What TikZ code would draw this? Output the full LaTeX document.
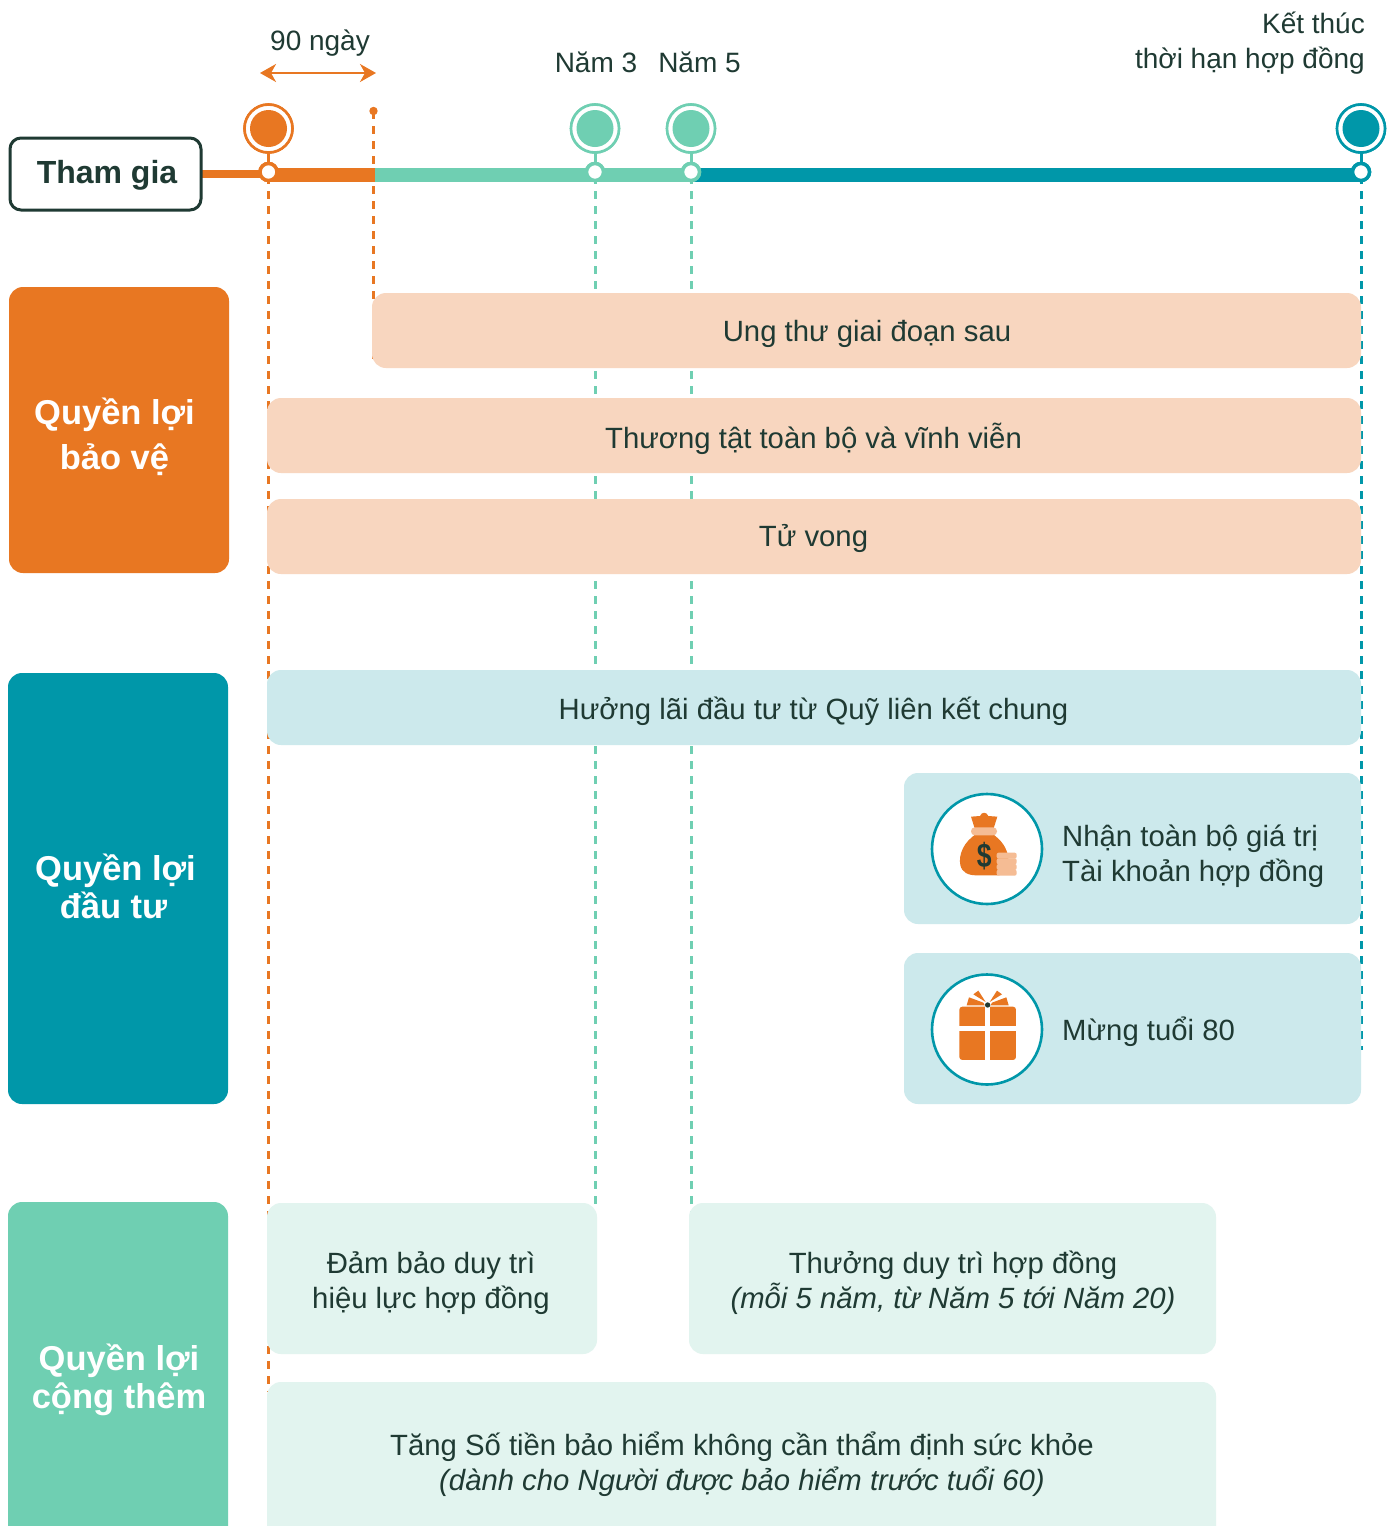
\documentclass[tikz,border=0pt]{standalone}
\usepackage{fontspec}
\setmainfont{Liberation Sans}
\usetikzlibrary{arrows.meta}
\definecolor{ink}{HTML}{1F3A33}
\definecolor{orangeC}{HTML}{E87722}
\definecolor{tealC}{HTML}{0097A9}
\definecolor{greenC}{HTML}{6FCFB2}
\definecolor{peachC}{HTML}{F8D6BF}
\definecolor{paleteal}{HTML}{CCE9EC}
\definecolor{palegreen}{HTML}{E2F4EF}
\definecolor{lightorange}{HTML}{F5BC94}
\tikzset{
  panel/.style={inner sep=0pt,outer sep=0pt,rounded corners=14pt},
  body/.style={text=ink,align=center,inner sep=0pt,font=\fontsize{29.3}{35}\selectfont},
  toplabel/.style={text=ink,inner sep=0pt,font=\fontsize{28}{35}\selectfont},
  head/.style={text=white,align=center,inner sep=0pt,font=\fontsize{34.5}{38}\selectfont\bfseries},
  ringn/.style={circle,draw=#1,line width=2.6pt,fill=white,minimum size=48pt,inner sep=0pt,outer sep=0pt},
  dotn/.style={circle,fill=#1,minimum size=37pt,inner sep=0pt,outer sep=0pt},
  tick/.style={circle,draw=#1,line width=3.5pt,fill=white,minimum size=17pt,inner sep=0pt,outer sep=0pt},
  stem/.style={draw=#1,line width=3pt},
  guide/.style={draw=#1,line width=3pt,dash pattern=on 8pt off 7pt},
  bar/.style={draw=#1,line width=13.5pt},
  iconring/.style={circle,draw=tealC,line width=2.6pt,fill=white,minimum size=110pt,inner sep=0pt,outer sep=0pt},
}
\newcommand{\panelbox}[6]{\node[panel,fill=#6,minimum width={(#4-#2)*1pt},minimum height={(#5-#3)*1pt}] (#1) at ({(#2+#4)/2},{(#3+#5)/2}) {};}
\begin{document}
\begin{tikzpicture}[x=1pt,y=-1pt]
\clip (0,0) rectangle (1391,1526);
\fill[white] (0,0) rectangle (1391,1526);

% anchors on the time line
\coordinate (t0) at (202,174);
\coordinate (t1) at (268,174);
\coordinate (b1) at (268,175);
\coordinate (b2) at (375,175);
\coordinate (b4) at (691,175);
\coordinate (b5) at (1361,175);
\coordinate (g1s) at (268,176);
\coordinate (g2s) at (373.5,111);
\coordinate (g2e) at (373.5,360);
\coordinate (g3s) at (595.5,176);
\coordinate (g3e) at (595.5,1208);
\coordinate (g4s) at (691,176);
\coordinate (g4e) at (691,1215);
\coordinate (g5s) at (1361.5,176);
\coordinate (g5e) at (1361.5,1050);
\coordinate (g1e) at (268,1392);
\coordinate (al) at (260,73);
\coordinate (ar) at (376,73);

% guides
\draw[guide=orangeC] (g1s) -- (g1e);
\draw[guide=orangeC] (g2s) -- (g2e);
\draw[guide=greenC] (g3s) -- (g3e);
\draw[guide=greenC] (g4s) -- (g4e);
\draw[guide=tealC] (g5s) -- (g5e);

% bars
\draw[draw=orangeC,line width=8pt] (t0) -- (t1);
\draw[bar=orangeC] (b1) -- (b2);
\draw[bar=greenC] (b2) -- (b4);
\draw[bar=tealC] (b4) -- (b5);
\fill[orangeC] (g2s) circle (4.2);

% left headers
\panelbox{hA}{9}{287}{229}{573}{orangeC}
\panelbox{hB}{8}{673}{228}{1104}{tealC}
\panelbox{hC}{8}{1202}{228}{1545}{greenC}
\node[head,font=\fontsize{34.5}{45}\selectfont\bfseries] (tA) at (114.5,437) {Quyền lợi\\bảo vệ};
\node[head] (tB) at (115.5,886) {Quyền lợi\\đầu tư\hspace*{4pt}};
\node[head] (tC) at (119,1380) {Quyền lợi\\cộng thêm};

% panels
\panelbox{p1}{372}{293}{1361}{368}{peachC}
\panelbox{p2}{267}{398}{1361}{473}{peachC}
\panelbox{p3}{267}{499}{1361}{574}{peachC}
\panelbox{p4}{267}{670}{1361}{745}{paleteal}
\panelbox{p5}{904}{773}{1361}{924}{paleteal}
\panelbox{p6}{904}{953}{1361}{1104}{paleteal}
\panelbox{p7}{267}{1203}{597}{1354}{palegreen}
\panelbox{p8}{689}{1203}{1216}{1354}{palegreen}
\panelbox{p9}{267}{1382}{1216}{1545}{palegreen}

\node[body] (l1) at (867,334) {Ung thư giai đoạn sau};
\node[body] (l2) at (813.5,439) {Thương tật toàn bộ và vĩnh viễn};
\node[body] (l3) at (813.5,538) {Tử vong};
\node[body] (l4) at (813.5,711) {Hưởng lãi đầu tư từ Quỹ liên kết chung};
\node[body,align=left,anchor=west] (l5) at (1062,856) {Nhận toàn bộ giá trị\\Tài khoản hợp đồng};
\node[body,anchor=west] (l6) at (1062,1032) {Mừng tuổi 80};
\node[body] (l7) at (431,1283) {Đảm bảo duy trì\\hiệu lực hợp đồng};
\node[body] (l8) at (953,1283) {Thưởng duy trì hợp đồng\\\textit{(mỗi 5 năm, từ Năm 5 tới Năm 20)}};
\node[body] (l9) at (742,1464) {Tăng Số tiền bảo hiểm không cần thẩm định sức khỏe\\\textit{(dành cho Người được bảo hiểm trước tuổi 60)}};

% join box
\node[draw=ink,line width=3pt,fill=white,rounded corners=11pt,minimum width=191pt,minimum height=72pt,inner sep=0pt,outer sep=0pt] (join) at (105.5,174) {};
\node[text=ink,inner sep=0pt,font=\fontsize{32}{36}\selectfont\bfseries] (joint) at (107,175) {Tham gia};

% markers
\node[ringn=orangeC] (m1) at (268.5,128.5) {};
\node[ringn=greenC] (m3) at (595,128.5) {};
\node[ringn=greenC] (m4) at (691,128.5) {};
\node[ringn=tealC] (m5) at (1361,128.5) {};
\node[tick=orangeC] (s1) at (268.5,172) {};
\node[tick=greenC] (s3) at (595,172) {};
\node[tick=greenC] (s4) at (691,172) {};
\node[tick=tealC] (s5) at (1361,172) {};
\draw[stem=orangeC] (m1) -- (s1);
\draw[stem=greenC] (m3) -- (s3);
\draw[stem=greenC] (m4) -- (s4);
\draw[stem=tealC] (m5) -- (s5);
\node[ringn=orangeC] (m1b) at (m1) {};
\node[ringn=greenC] (m3b) at (m3) {};
\node[ringn=greenC] (m4b) at (m4) {};
\node[ringn=tealC] (m5b) at (m5) {};
\node[dotn=orangeC] (d1) at (m1) {};
\node[dotn=greenC] (d3) at (m3) {};
\node[dotn=greenC] (d4) at (m4) {};
\node[dotn=tealC] (d5) at (m5) {};
\node[tick=orangeC] (s1b) at (s1) {};
\node[tick=greenC] (s3b) at (s3) {};
\node[tick=greenC] (s4b) at (s4) {};
\node[tick=tealC] (s5b) at (s5) {};

% top labels
\node[toplabel] (a90) at (320,43) {90 ngày};
\node[toplabel] (n3) at (596,62) {Năm 3};
\node[toplabel] (n5) at (699.5,62) {Năm 5};
\node[toplabel,align=right,anchor=east] (end) at (1365,43) {Kết thúc\\thời hạn hợp đồng};
\draw[orangeC,line width=2pt,{Stealth[length=16pt,width=18pt,inset=5pt]}-{Stealth[length=16pt,width=18pt,inset=5pt]}] (al) -- (ar);

% icon rings
\node[iconring] (ic1) at (987,849) {};
\node[iconring] (ic2) at (987,1029.5) {};

% money bag
\begin{scope}[shift={(900,770)},x=0.3333pt,y=-0.3333pt]
\fill[orangeC] (213,140) -- (240,138) .. controls (245,125) and (260,125) .. (265,138) -- (292,140) -- (280,178) -- (225,178) -- cycle;
\fill[orangeC] (232,190) .. controls (190,215) and (175,255) .. (181,285) .. controls (186,308) and (205,316) .. (230,316) -- (295,316) .. controls (315,316) and (328,300) .. (325,265) .. controls (322,235) and (305,210) .. (275,190) -- cycle;
\fill[lightorange,rounded corners=3.8pt] (213,172) rectangle (291,196);
\foreach \yy in {248,265,282,299} \fill[lightorange,rounded corners=2pt] (290,\yy) rectangle (350,\yy+18);
\node[text=ink,inner sep=0pt,xscale=0.78,font=\fontsize{34}{34}\selectfont\bfseries] (dollar) at (253,257) {\$};
\end{scope}

% gift
\begin{scope}[shift={(900,770)},x=0.3333pt,y=-0.3333pt]
\fill[orangeC,rounded corners=3pt] (178,710) rectangle (348,870);
\fill[white] (255,705) rectangle (270,872);
\fill[white] (176,768) rectangle (350,783);
\fill[orangeC] (200,706) -- (207,682) -- (250,698) -- (254,706) -- cycle;
\fill[orangeC] (220,673) -- (235,662) -- (257,696) -- cycle;
\fill[orangeC] (326,706) -- (319,682) -- (276,698) -- (272,706) -- cycle;
\fill[orangeC] (306,673) -- (291,662) -- (269,696) -- cycle;
\fill[ink] (263,705) circle (8);
\end{scope}
\end{tikzpicture}
\end{document}
